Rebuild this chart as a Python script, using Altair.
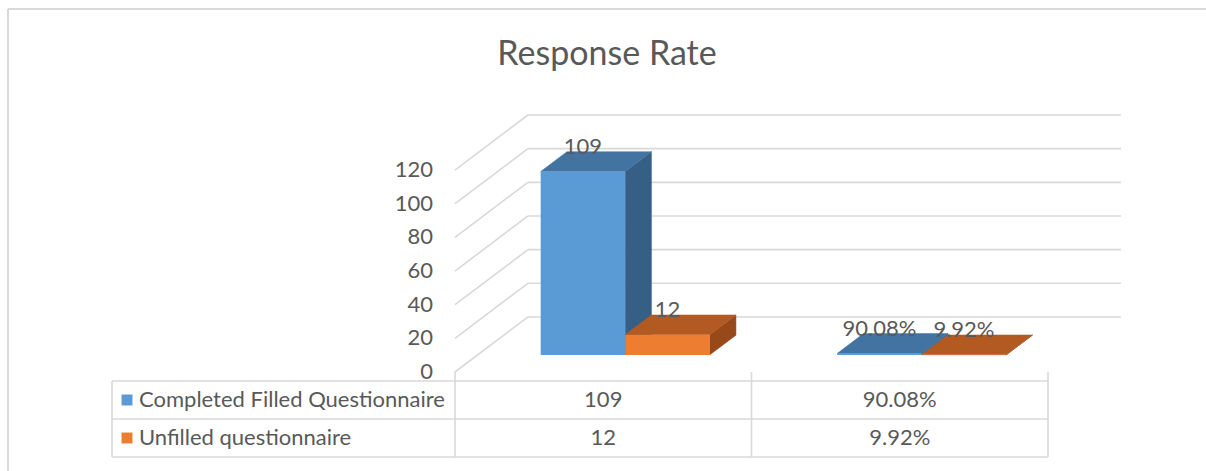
import altair as alt
import pandas as pd

# ---------------- data ----------------
categories = ["Count", "Percentage"]
series_names = ["Completed Filled Questionnaire", "Unfilled questionnaire"]
completed = [109, 0.9008]
unfilled = [12, 0.0992]
completed_labels = ["109", "90.08%"]
unfilled_labels = ["12", "9.92%"]
value_ticks = [0, 20, 40, 60, 80, 100, 120]

# ---------------- layout / style ----------------
W, H = 1206, 471
PAD_L, PAD_T = 8, 9
CAT_PX = 296.5          # pixels per category slot
VAL_PX = 1.683          # pixels per value unit
ORIGIN_X, ORIGIN_Y = 455, 372   # where category 0 / value 0 meet (front plane)
DEPTH_X = 0.246         # depth shift in category units
DEPTH_Y = 32.7          # depth shift in value units
BAR_OFF = 0.289
BAR_W = 0.285
BAR_FRONT = 0.31        # depth fraction of bar front face
BAR_DEPTH = 0.36        # depth fraction of bar thickness
TABLE_GAP_PX = 9
ROW_PX = 38
TABLE_LEFT_PX = 343

FONT = "Lato"
TXT = "#595959"
GRID = "#d9d9d9"
FRONT = ["#5b9bd5", "#ed7d31"]
TOP = ["#4373a1", "#b35a22"]
SIDE = ["#365f86", "#97491a"]

plot_w = W - PAD_L
plot_h = H - PAD_T
xmin = (PAD_L - ORIGIN_X) / CAT_PX
xmax = (W - ORIGIN_X) / CAT_PX
ymax = (ORIGIN_Y - PAD_T) / VAL_PX
ymin = (ORIGIN_Y - H) / VAL_PX
xs = alt.Scale(domain=[xmin, xmax], nice=False, zero=False)
ys = alt.Scale(domain=[ymin, ymax], nice=False, zero=False)


def X(f):
    return alt.X(f, type="quantitative", scale=xs, axis=None)


def Y(f):
    return alt.Y(f, type="quantitative", scale=ys, axis=None)


def X2(f):
    return alt.X2(f)


def Y2(f):
    return alt.Y2(f)


ncat = len(categories)

# ---------- walls ----------
walls = pd.DataFrame({
    "v": value_ticks,
})
left_wall = alt.Chart(walls).transform_calculate(
    x0="0", y0="datum.v", x1=str(DEPTH_X), y1=f"datum.v + {DEPTH_Y}"
).mark_rule(color=GRID, strokeWidth=1.6).encode(
    x=X("x0"), y=Y("y0"), x2=X2("x1"), y2=Y2("y1"))
back_wall = alt.Chart(walls).transform_calculate(
    x0=str(DEPTH_X), x1=str(ncat + DEPTH_X), y0=f"datum.v + {DEPTH_Y}"
).mark_rule(color=GRID, strokeWidth=1.6).encode(
    x=X("x0"), x2=X2("x1"), y=Y("y0"))
tick_labels = alt.Chart(walls).transform_calculate(x0="0").mark_text(
    align="right", baseline="middle", dx=-22, font=FONT, fontSize=22, color=TXT
).encode(x=X("x0"), y=Y("v"), text=alt.Text("v:Q", format="d"))

# ---------- bars ----------
base = BAR_FRONT * DEPTH_Y
ddx = BAR_DEPTH * DEPTH_X
ddy = BAR_DEPTH * DEPTH_Y
layers = [left_wall, back_wall, tick_labels]
label_rows = []
for s, (vals, labs) in enumerate([(completed, completed_labels), (unfilled, unfilled_labels)]):
    front_rows, top_rows, side_rows = [], [], []
    for c, v in enumerate(vals):
        xl = c + BAR_OFF + s * BAR_W
        xr = xl + BAR_W
        yb = base
        yt = base + v
        bid = f"{s}-{c}"
        front_rows.append({"xl": xl, "xr": xr, "yb": yb, "yt": yt})
        top_rows += [{"id": bid, "y": yt, "xa": xl, "xb": xr},
                     {"id": bid, "y": yt + ddy, "xa": xl + ddx, "xb": xr + ddx}]
        side_rows += [{"id": bid, "x": xr, "ya": yb, "yb": yt},
                      {"id": bid, "x": xr + ddx, "ya": yb + ddy, "yb": yt + ddy}]
        label_rows.append({"x": (xl + xr) / 2, "y": yt + ddy, "t": labs[c]})
    side = alt.Chart(pd.DataFrame(side_rows)).mark_area(
        orient="vertical", color=SIDE[s], stroke=SIDE[s], strokeWidth=0.5
    ).encode(x=X("x"), y=Y("ya"), y2=Y2("yb"), detail="id:N")
    top = alt.Chart(pd.DataFrame(top_rows)).mark_area(
        orient="horizontal", color=TOP[s], stroke=TOP[s], strokeWidth=0.5
    ).encode(y=Y("y"), x=X("xa"), x2=X2("xb"), detail="id:N")
    front = alt.Chart(pd.DataFrame(front_rows)).mark_rect(color=FRONT[s]).encode(
        x=X("xl"), x2=X2("xr"), y=Y("yb"), y2=Y2("yt"))
    layers += [side, top, front]

data_labels = alt.Chart(pd.DataFrame(label_rows)).mark_text(
    baseline="middle", dy=-5, font=FONT, fontSize=22, color=TXT
).encode(x=X("x"), y=Y("y"), text="t:N")
layers.append(data_labels)

# ---------- data table ----------
t_top = -TABLE_GAP_PX / VAL_PX
row_u = ROW_PX / VAL_PX
t_left = -TABLE_LEFT_PX / CAT_PX
t_bottom = t_top - 2 * row_u
hlines = pd.DataFrame({"y": [t_top, t_top - row_u, t_bottom]})
table_h = alt.Chart(hlines).transform_calculate(
    x0=str(t_left), x1=str(ncat)
).mark_rule(color=GRID, strokeWidth=1.6).encode(x=X("x0"), x2=X2("x1"), y=Y("y"))
vlines = pd.DataFrame({"x": [t_left] + list(range(ncat + 1)),
                       "y0": [t_top] + [0.0] * (ncat + 1)})
table_v = alt.Chart(vlines).transform_calculate(y1=str(t_bottom)).mark_rule(
    color=GRID, strokeWidth=1.6).encode(x=X("x"), y=Y("y0"), y2=Y2("y1"))

cells = []
for r, labs in enumerate([completed_labels, unfilled_labels]):
    for c, t in enumerate(labs):
        cells.append({"x": c + 0.5, "y": t_top - (r + 0.5) * row_u, "t": t})
table_vals = alt.Chart(pd.DataFrame(cells)).mark_text(
    baseline="middle", font=FONT, fontSize=22, color=TXT
).encode(x=X("x"), y=Y("y"), text="t:N")

legend_rows = pd.DataFrame({
    "name": series_names,
    "y": [t_top - (r + 0.5) * row_u for r in range(len(series_names))],
    "color": FRONT,
})
legend_sym = alt.Chart(legend_rows).transform_calculate(
    x=str(t_left + 15 / CAT_PX)
).mark_square(size=120, opacity=1).encode(
    x=X("x"), y=Y("y"), color=alt.Color("color:N", scale=None))
legend_txt = alt.Chart(legend_rows).transform_calculate(
    x=str(t_left + 27 / CAT_PX)
).mark_text(align="left", baseline="middle", font=FONT, fontSize=22, color=TXT).encode(
    x=X("x"), y=Y("y"), text="name:N")

layers += [table_h, table_v, table_vals, legend_sym, legend_txt]

# ---------- frame ----------
frame_top = alt.Chart(pd.DataFrame({"a": [0]})).mark_rule(color=GRID, strokeWidth=2).encode(
    x=alt.value(0), x2=alt.value(plot_w), y=alt.value(0))
frame_left = alt.Chart(pd.DataFrame({"a": [0]})).mark_rule(color=GRID, strokeWidth=2).encode(
    x=alt.value(0), y=alt.value(0), y2=alt.value(plot_h))
layers += [frame_top, frame_left]

chart = alt.layer(*layers).properties(
    width=plot_w, height=plot_h,
    title=alt.TitleParams("Response Rate", font=FONT, fontSize=34, fontWeight="normal",
                          color=TXT, anchor="middle", baseline="alphabetic", offset=-91),
    autosize=alt.AutoSizeParams(type="none"),
    padding={"left": PAD_L, "top": PAD_T, "right": 0, "bottom": 0},
).configure_view(stroke=None).configure(background="white")

chart.save("out.html", embed_options={"renderer": "svg", "actions": False})
